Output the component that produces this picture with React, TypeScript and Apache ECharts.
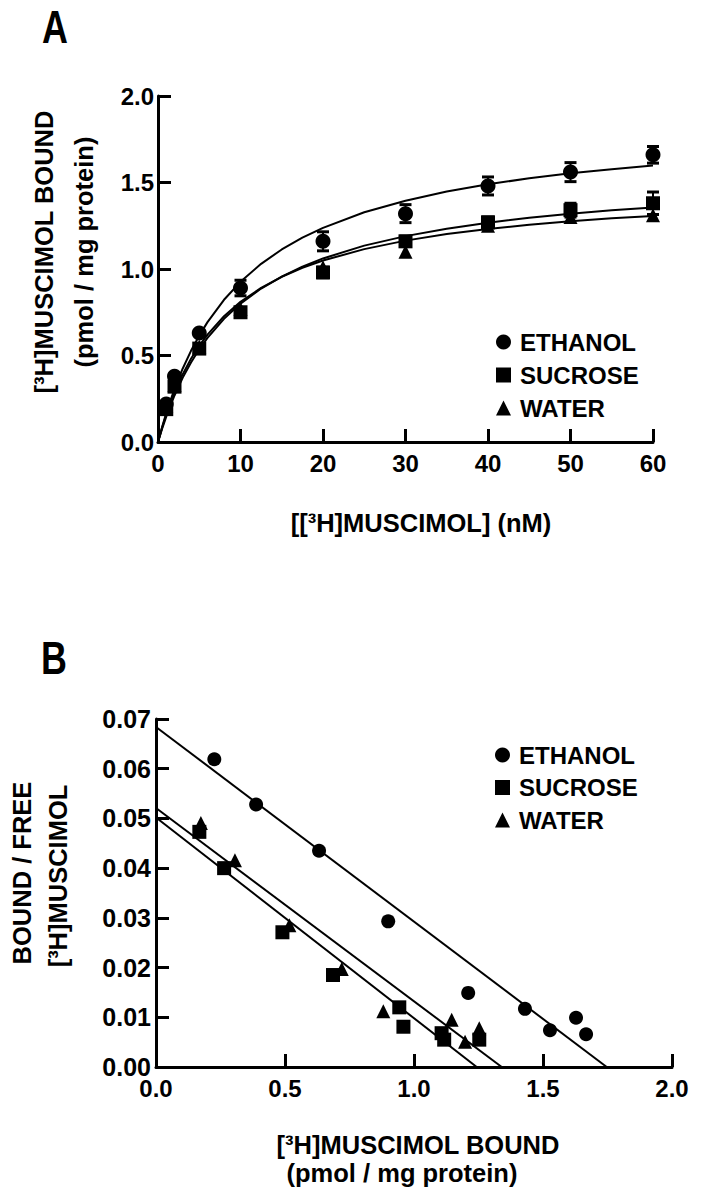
import React, { useEffect, useRef } from "react";
import * as echarts from "echarts";

// ---------- Panel A: saturation binding ----------
const concA = [1, 2, 5, 10, 20, 30, 40, 50, 60];
const ethanolBound = [0.22, 0.38, 0.63, 0.89, 1.16, 1.32, 1.48, 1.56, 1.66];
const ethanolErr = [0, 0, 0, 0.045, 0.055, 0.052, 0.052, 0.055, 0.048];
const sucroseBound = [0.19, 0.32, 0.54, 0.75, 0.98, 1.16, 1.27, 1.34, 1.38];
const sucroseErr = [0, 0, 0, 0, 0.03, 0.03, 0.03, 0.04, 0.065];
const waterBound = [0.21, 0.33, 0.55, 0.77, 1.01, 1.1, 1.25, 1.3, 1.31];

// fitted curves
const fitX = [0, 0.5, 1, 2, 3, 4, 5, 6, 8, 10, 12.5, 15, 17.5, 20, 25, 30, 35, 40, 45, 50, 55, 60];
const ethanolFit = [0, 0.087, 0.167, 0.307, 0.425, 0.527, 0.615, 0.693, 0.822, 0.926, 1.03, 1.113, 1.181, 1.238, 1.328, 1.395, 1.448, 1.49, 1.524, 1.553, 1.577, 1.598];
const sucroseFit = [0, 0.077, 0.147, 0.269, 0.372, 0.46, 0.536, 0.602, 0.712, 0.8, 0.887, 0.956, 1.013, 1.061, 1.135, 1.19, 1.233, 1.268, 1.296, 1.319, 1.339, 1.356];
const waterFit = [0, 0.084, 0.159, 0.287, 0.392, 0.481, 0.556, 0.621, 0.727, 0.81, 0.891, 0.955, 1.007, 1.049, 1.115, 1.164, 1.202, 1.231, 1.256, 1.276, 1.293, 1.307];

// ---------- Panel B: Scatchard ----------
const ethanolB_x = [0.226, 0.388, 0.632, 0.9, 1.21, 1.43, 1.527, 1.628, 1.667];
const ethanolB_y = [0.0619, 0.0528, 0.0435, 0.0293, 0.0149, 0.0117, 0.0074, 0.0099, 0.0066];
const sucroseB_x = [0.168, 0.264, 0.49, 0.686, 0.943, 0.959, 1.107, 1.117, 1.253];
const sucroseB_y = [0.0473, 0.04, 0.0271, 0.0185, 0.012, 0.0081, 0.0068, 0.0055, 0.0055];
const waterB_x = [0.174, 0.306, 0.517, 0.72, 0.881, 1.146, 1.198, 1.253];
const waterB_y = [0.0491, 0.0416, 0.0285, 0.0197, 0.0112, 0.0095, 0.0051, 0.0078];

const ethanolLineX = [0, 1.747];
const ethanolLineY = [0.0684, 0];
const sucroseLineX = [0, 1.243];
const sucroseLineY = [0.0502, 0];
const waterLineX = [0, 1.34];
const waterLineY = [0.0521, 0];

const seriesNames = ["ETHANOL", "SUCROSE", "WATER"];

const FONT = "'Liberation Sans', Arial, Helvetica, sans-serif";

const zip = (xs: number[], ys: number[]) => xs.map((x, i) => [x, ys[i]]);

export default function App() {
  const ref = useRef<HTMLDivElement>(null);
  useEffect(() => {
    if (!ref.current) return;
    const chart = echarts.init(ref.current, undefined, { renderer: "svg" });

    const axisLine = { show: true, lineStyle: { color: "#000", width: 3 } };
    const axisTick = { show: true, inside: true, length: 13, lineStyle: { color: "#000", width: 3 } };
    const labelBase = { color: "#000", fontSize: 24, fontWeight: "bold", fontFamily: FONT };

    const errData = (xs: number[], ys: number[], es: number[]) =>
      xs.map((x, i) => [x, ys[i] - es[i], ys[i] + es[i]]).filter((d, i) => es[i] > 0);

    const errorSeries = (name: string, data: number[][]) => ({
      type: "custom",
      name: name + " err",
      xAxisIndex: 0,
      yAxisIndex: 0,
      z: 3,
      encode: { x: 0, y: [1, 2] },
      data,
      renderItem: (params: any, api: any) => {
        const x = api.value(0);
        const lo = api.value(1);
        const hi = api.value(2);
        const p1 = api.coord([x, hi]);
        const p2 = api.coord([x, lo]);
        const w = 6;
        return {
          type: "group",
          children: [
            { type: "line", shape: { x1: p1[0], y1: p1[1], x2: p2[0], y2: p2[1] }, style: { stroke: "#000", lineWidth: 2 } },
            { type: "line", shape: { x1: p1[0] - w, y1: p1[1], x2: p1[0] + w, y2: p1[1] }, style: { stroke: "#000", lineWidth: 3 } },
            { type: "line", shape: { x1: p2[0] - w, y1: p2[1], x2: p2[0] + w, y2: p2[1] }, style: { stroke: "#000", lineWidth: 3 } },
          ],
        };
      },
    });

    const fitLine = (name: string, data: number[][], xi: number) => ({
      type: "line",
      name,
      xAxisIndex: xi,
      yAxisIndex: xi,
      data,
      smooth: false,
      showSymbol: false,
      symbol: "none",
      lineStyle: { color: "#000", width: 2 },
      z: 2,
      silent: true,
    });

    const scat = (name: string, symbol: string, data: number[][], xi: number, size: number) => ({
      type: "scatter",
      name,
      xAxisIndex: xi,
      yAxisIndex: xi,
      data,
      symbol,
      symbolSize: size,
      itemStyle: { color: "#000", opacity: 1 },
      z: 4,
    });

    const legendText = { ...labelBase, fontSize: 24, lineHeight: 20, padding: [0, 0, 0, 4] };
    const legendData = [
      { name: seriesNames[0], icon: "circle" },
      { name: seriesNames[1], icon: "rect" },
      { name: seriesNames[2], icon: "triangle" },
    ];

    const titleStyle = (text: string) => ({
      text,
      fill: "#000",
      font: `bold 25.5px ${FONT}`,
      align: "center",
      verticalAlign: "middle",
    });

    chart.setOption({
      animation: false,
      backgroundColor: "#fff",
      grid: [
        { left: 158, top: 96, width: 495, height: 346 },
        { left: 156, top: 719, width: 516, height: 348 },
      ],
      xAxis: [
        {
          gridIndex: 0, type: "value", min: 0, max: 60, interval: 10,
          axisLine, axisTick, splitLine: { show: false },
          axisLabel: { ...labelBase, margin: 9, formatter: (v: number) => String(v) },
        },
        {
          gridIndex: 1, type: "value", min: 0, max: 2, interval: 0.5,
          axisLine, axisTick, splitLine: { show: false },
          axisLabel: { ...labelBase, margin: 9, formatter: (v: number) => v.toFixed(1) },
        },
      ],
      yAxis: [
        {
          gridIndex: 0, type: "value", min: 0, max: 2, interval: 0.5,
          axisLine, axisTick, splitLine: { show: false },
          axisLabel: { ...labelBase, margin: 4, formatter: (v: number) => v.toFixed(1) },
        },
        {
          gridIndex: 1, type: "value", min: 0, max: 0.07, interval: 0.01,
          axisLine, axisTick, splitLine: { show: false },
          axisLabel: { ...labelBase, fontSize: 25, margin: 5, formatter: (v: number) => v.toFixed(2) },
        },
      ],
      legend: [
        {
          left: 491, top: 325, orient: "vertical", itemWidth: 15, itemHeight: 15, itemGap: 9,
          selectedMode: false, data: legendData, textStyle: legendText,
        },
        {
          left: 490, top: 738, orient: "vertical", itemWidth: 15, itemHeight: 15, itemGap: 8.5,
          selectedMode: false, data: legendData, textStyle: legendText,
        },
      ],
      series: [
        fitLine("ETHANOL fit", zip(fitX, ethanolFit), 0),
        fitLine("SUCROSE fit", zip(fitX, sucroseFit), 0),
        fitLine("WATER fit", zip(fitX, waterFit), 0),
        errorSeries("ETHANOL", errData(concA, ethanolBound, ethanolErr)),
        errorSeries("SUCROSE", errData(concA, sucroseBound, sucroseErr)),
        scat("WATER", "triangle", zip(concA, waterBound), 0, 14),
        scat("SUCROSE", "rect", zip(concA, sucroseBound), 0, 14),
        scat("ETHANOL", "circle", zip(concA, ethanolBound), 0, 15),

        fitLine("ETHANOL line", zip(ethanolLineX, ethanolLineY), 1),
        fitLine("SUCROSE line", zip(sucroseLineX, sucroseLineY), 1),
        fitLine("WATER line", zip(waterLineX, waterLineY), 1),
        scat("WATER", "triangle", zip(waterB_x, waterB_y), 1, 14),
        scat("SUCROSE", "rect", zip(sucroseB_x, sucroseB_y), 1, 14),
        scat("ETHANOL", "circle", zip(ethanolB_x, ethanolB_y), 1, 14),
      ],
      graphic: [
        { type: "text", x: 55, y: 27, scaleX: 0.78, style: { ...titleStyle("A"), font: `bold 46px ${FONT}` } },
        { type: "text", x: 54, y: 658, scaleX: 0.78, style: { ...titleStyle("B"), font: `bold 46px ${FONT}` } },
        { type: "text", x: 44, y: 252, rotation: Math.PI / 2, style: titleStyle("[³H]MUSCIMOL BOUND") },
        { type: "text", x: 84, y: 252, rotation: Math.PI / 2, style: titleStyle("(pmol / mg protein)") },
        { type: "text", x: 421, y: 523, style: titleStyle("[[³H]MUSCIMOL] (nM)") },
        { type: "text", x: 22, y: 873, rotation: Math.PI / 2, style: titleStyle("BOUND / FREE") },
        { type: "text", x: 58, y: 876, rotation: Math.PI / 2, style: titleStyle("[³H]MUSCIMOL") },
        { type: "text", x: 418, y: 1145, style: titleStyle("[³H]MUSCIMOL BOUND") },
        { type: "text", x: 402, y: 1173, style: titleStyle("(pmol / mg protein)") },
      ],
    });
    return () => chart.dispose();
  }, []);
  return (
    <div
      ref={ref}
      style={{ position: "absolute", left: 0, top: 0, width: 705, height: 1199, background: "#fff" }}
    />
  );
}
